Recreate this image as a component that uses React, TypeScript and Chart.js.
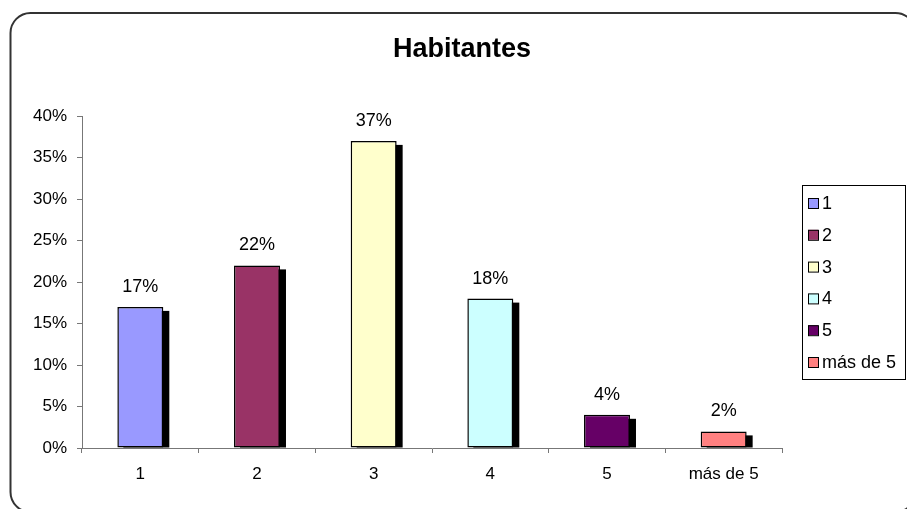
import React, { useEffect, useRef } from "react";
import { Chart, registerables } from "chart.js";

Chart.register(...registerables);

const titleText = "Habitantes";
const categories = ["1", "2", "3", "4", "5", "más de 5"];
const values = [17, 22, 37, 18, 4, 2];
const colors = ["#9999FF", "#993366", "#FFFFCC", "#CCFFFF", "#660066", "#FF8080"];
const yMax = 40;
const yStep = 5;

const FONT = '"Liberation Sans", Arial, sans-serif';

const framePlugin = {
  id: "frame",
  beforeDraw(chart: any) {
    const ctx = chart.ctx;
    ctx.save();
    ctx.fillStyle = "#ffffff";
    ctx.fillRect(0, 0, chart.width, chart.height);
    const x = 10.5, y = 13, w = 905, h = 499, r = 20;
    ctx.beginPath();
    ctx.moveTo(x + r, y);
    ctx.lineTo(x + w - r, y);
    ctx.arcTo(x + w, y, x + w, y + r, r);
    ctx.lineTo(x + w, y + h - r);
    ctx.arcTo(x + w, y + h, x + w - r, y + h, r);
    ctx.lineTo(x + r, y + h);
    ctx.arcTo(x, y + h, x, y + h - r, r);
    ctx.lineTo(x, y + r);
    ctx.arcTo(x, y, x + r, y, r);
    ctx.closePath();
    ctx.strokeStyle = "#333333";
    ctx.lineWidth = 2;
    ctx.stroke();
    // title
    ctx.fillStyle = "#000000";
    ctx.font = `bold 27px ${FONT}`;
    ctx.textAlign = "center";
    ctx.textBaseline = "alphabetic";
    ctx.fillText(titleText, 462, 57);
    ctx.restore();
  },
};

const shadowPlugin = {
  id: "barShadow",
  beforeDatasetsDraw(chart: any) {
    const ctx = chart.ctx;
    const meta = chart.getDatasetMeta(0);
    ctx.save();
    ctx.fillStyle = "#000000";
    meta.data.forEach((el: any) => {
      const { x, y, base, width } = el.getProps(["x", "y", "base", "width"], true);
      const h = base - y - 4;
      if (h > 0) ctx.fillRect(x - width / 2 + 6, y + 4, width, h);
    });
    ctx.restore();
  },
  afterDatasetsDraw(chart: any) {
    const ctx = chart.ctx;
    const meta = chart.getDatasetMeta(0);
    ctx.save();
    ctx.fillStyle = "#000000";
    ctx.font = `18px ${FONT}`;
    ctx.textAlign = "center";
    ctx.textBaseline = "alphabetic";
    meta.data.forEach((el: any, i: number) => {
      const { x, y } = el.getProps(["x", "y"], true);
      ctx.fillText(values[i] + "%", x, y - 15);
    });
    ctx.restore();
  },
};

const legendPlugin = {
  id: "customLegend",
  afterDraw(chart: any) {
    const ctx = chart.ctx;
    ctx.save();
    ctx.strokeStyle = "#000000";
    ctx.lineWidth = 1;
    ctx.strokeRect(802.5, 185.5, 103, 194);
    ctx.font = `18px ${FONT}`;
    ctx.textAlign = "left";
    ctx.textBaseline = "middle";
    categories.forEach((c, i) => {
      const cy = 203 + i * 31.8;
      ctx.fillStyle = colors[i];
      ctx.fillRect(808, cy - 5, 10, 10);
      ctx.strokeRect(808.5, cy - 4.5, 10, 10);
      ctx.fillStyle = "#000000";
      ctx.fillText(c, 822, cy + 1);
    });
    ctx.restore();
  },
};

export default function App() {
  const ref = useRef<HTMLCanvasElement>(null);
  useEffect(() => {
    if (!ref.current) return;
    const chart = new Chart(ref.current, {
      type: "bar",
      data: {
        labels: categories,
        datasets: [
          {
            label: titleText,
            data: values,
            backgroundColor: colors,
            borderColor: "#000000",
            borderWidth: 1.5,
            borderSkipped: false,
            barPercentage: 0.394,
            categoryPercentage: 1,
          },
        ],
      },
      options: {
        responsive: false,
        animation: false,
        devicePixelRatio: 1,
        layout: { padding: { left: 0, top: 116, right: 125, bottom: 0 } },
        plugins: {
          legend: { display: false },
          title: { display: false },
          tooltip: { enabled: false },
        },
        scales: {
          x: {
            offset: true,
            grid: {
              offset: true,
              drawOnChartArea: false,
              drawTicks: true,
              tickLength: 5,
              color: "#777777",
            },
            border: { color: "#777777", width: 1 },
            ticks: {
              color: "#000000",
              font: { family: FONT, size: 17 },
              padding: 11,
              maxRotation: 0,
              autoSkip: false,
            },
            afterFit: (s: any) => {
              s.height = 509 - 448;
            },
          },
          y: {
            min: 0,
            max: yMax,
            grid: {
              drawOnChartArea: false,
              drawTicks: true,
              tickLength: 5,
              color: "#777777",
            },
            border: { color: "#777777", width: 1 },
            ticks: {
              stepSize: yStep,
              color: "#000000",
              font: { family: FONT, size: 17 },
              padding: 10,
              callback: (v: any) => v + "%",
            },
            afterFit: (s: any) => {
              s.width = 82;
            },
          },
        },
      },
      plugins: [framePlugin, shadowPlugin, legendPlugin],
    });
    return () => chart.destroy();
  }, []);
  return (
    <div style={{ position: "absolute", left: 0, top: 0, width: 907, height: 509 }}>
      <canvas ref={ref} width={907} height={509} style={{ display: "block" }} />
    </div>
  );
}
